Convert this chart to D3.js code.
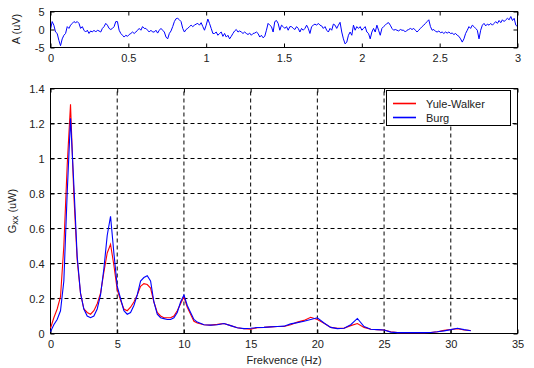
<!DOCTYPE html>
<html><head><meta charset="utf-8">
<script src="https://cdn.jsdelivr.net/npm/d3@7"></script>
<style>
body{margin:0;background:#fff}
svg{display:block}
text{font-family:"Liberation Sans",Arial,Helvetica,sans-serif;font-size:11px;fill:#222}
</style>
</head><body>
<svg id="c" width="534" height="368"></svg>
<script>
// ---------- data ----------
const signalDuration = 3; // seconds
const signalValues = [
0.0,2.2,1.2,-0.7,-1.1,-3.0,-4.5,-2.6,-1.6,-1.1,0.8,0.3,1.2,1.7,2.2,1.9,2.2,1.7,0.3,0.8,-0.2,-0.7,-0.2,-1.1,-0.4,-0.7,-0.2,-0.7,-0.2,-0.4,-0.7,0.3,0.8,1.7,1.2,0.3,0.0,0.3,0.8,2.2,2.2,-0.2,-1.1,-1.6,-2.1,-1.6,-1.9,-1.4,-1.1,-0.7,-1.1,-0.7,-0.2,0.3,-0.2,0.8,0.3,0.3,-0.2,-0.7,-0.2,-0.7,-0.7,-0.2,-1.0,-0.2,0.3,-0.2,-0.7,-2.1,-2.6,-1.1,
-0.4,0.8,2.2,3.0,3.1,2.7,2.2,0.3,-0.7,0.0,0.3,0.8,1.2,0.8,1.2,1.5,1.7,1.2,1.9,0.8,-0.2,1.2,2.9,1.7,0.3,-1.1,-1.1,-0.7,-1.6,-1.1,-0.7,-1.9,-1.1,-2.1,-1.6,-2.6,-1.9,-1.1,-0.4,0.0,-0.7,-0.4,-0.7,-1.1,-0.7,-1.1,-1.4,-1.0,-1.6,-1.1,-1.0,-0.7,-1.1,-2.1,-1.6,-2.3,-1.9,-0.2,1.7,1.2,0.8,-0.7,2.2,2.5,1.7,-0.2,1.2,0.8,0.3,0.8,-0.2,0.8,
0.8,0.3,0.0,0.8,0.3,-0.7,0.3,-0.2,0.3,1.2,0.3,-1.1,0.8,1.2,1.5,1.2,1.7,1.2,1.0,0.3,0.8,-0.2,-0.7,0.3,-0.2,1.5,1.2,0.3,1.2,2.0,-0.7,-2.6,-4.0,-3.5,-1.6,-0.7,-1.6,1.2,-0.2,0.8,0.3,0.8,-0.2,0.3,0.8,-0.7,-1.1,-2.6,-0.7,0.3,-0.7,1.2,-0.2,-1.6,0.3,0.8,1.2,1.7,1.9,1.2,0.3,-0.2,0.0,-0.2,-0.4,0.0,-0.2,-0.2,-0.7,-0.2,0.0,0.3,
0.0,0.3,-0.2,-0.7,-0.2,0.3,0.8,1.2,1.7,2.2,2.7,0.8,-0.2,0.0,-0.5,-0.7,-0.4,-0.9,-0.7,-1.1,-0.7,-1.0,-0.7,-1.1,-1.0,-1.4,-1.1,-1.6,-1.9,-2.6,-3.5,-2.6,-1.1,-0.2,0.8,0.3,1.2,0.8,0.3,-0.2,-2.6,-0.2,1.2,1.7,1.0,1.5,1.2,1.7,1.2,1.7,2.2,1.7,2.5,1.9,2.7,2.2,2.7,3.1,2.7,3.6,2.5,3.1,1.2,0.8
];

const freqs = [0,0.25,0.5,0.75,1,1.25,1.5,1.75,2,2.25,2.5,2.75,3,3.25,3.5,3.75,4,4.25,4.5,4.75,5,5.25,5.5,5.75,6,6.25,6.5,6.75,7,7.25,7.5,7.75,8,8.25,8.5,8.75,9,9.25,9.5,9.75,10,10.25,10.5,10.75,11,11.5,12,12.5,13,13.5,14,14.5,15,15.5,16,16.5,17,17.5,18,18.5,19,19.5,20,20.5,21,21.5,22,22.5,23,23.5,24,24.5,25,25.5,26,26.5,27,27.5,28,28.5,29,29.5,30,30.5,31,31.5];
const yuleWalker = [0.03,0.09,0.14,0.21,0.50,0.96,1.31,0.79,0.42,0.23,0.14,0.12,0.11,0.13,0.17,0.23,0.35,0.46,0.51,0.39,0.25,0.19,0.14,0.13,0.15,0.18,0.22,0.27,0.285,0.28,0.26,0.18,0.12,0.10,0.09,0.09,0.09,0.10,0.13,0.17,0.21,0.15,0.11,0.07,0.06,0.05,0.048,0.052,0.057,0.045,0.033,0.027,0.025,0.033,0.035,0.038,0.04,0.04,0.05,0.065,0.075,0.093,0.08,0.058,0.035,0.03,0.03,0.045,0.057,0.035,0.024,0.022,0.02,0.01,0.005,0.005,0.005,0.005,0.005,0.006,0.01,0.018,0.023,0.027,0.02,0.017];
const burg = [0.01,0.05,0.08,0.13,0.30,0.80,1.23,0.85,0.44,0.23,0.14,0.10,0.09,0.10,0.14,0.22,0.37,0.56,0.67,0.46,0.27,0.20,0.13,0.11,0.12,0.16,0.22,0.30,0.32,0.33,0.30,0.18,0.11,0.09,0.085,0.08,0.08,0.09,0.12,0.18,0.22,0.16,0.12,0.08,0.065,0.05,0.048,0.05,0.057,0.045,0.033,0.028,0.03,0.034,0.035,0.038,0.04,0.042,0.055,0.062,0.07,0.08,0.09,0.06,0.035,0.028,0.03,0.05,0.086,0.04,0.024,0.022,0.02,0.008,0.005,0.005,0.005,0.005,0.005,0.006,0.01,0.015,0.022,0.03,0.022,0.016];

const seriesNames = ["Yule-Walker","Burg"];
const seriesColors = ["#ff0000","#0000ff"];

const topXTicks = [0,0.5,1,1.5,2,2.5,3];
const topYTicks = [-5,0,5];
const mainXTicks = [0,5,10,15,20,25,30,35];
const mainYTicks = [0,0.2,0.4,0.6,0.8,1,1.2,1.4];

const topYLabel = "A (uV)";
const mainXLabel = "Frekvence (Hz)";

// ---------- drawing ----------
const svg = d3.select("#c");
const L = 50.5, R = 517.5;

function inwardAxes(g, x, y, xt, yt, showGrid) {
  const [y0, y1] = y.range(); // bottom, top
  if (showGrid) {
    const gg = g.append("g").attr("stroke","#000").attr("stroke-dasharray","4,3").attr("stroke-width",1);
    xt.forEach(v => { if (v !== xt[0]) gg.append("line").attr("x1",x(v)).attr("x2",x(v)).attr("y1",y0).attr("y2",y1); });
    yt.forEach(v => { if (v !== yt[0]) gg.append("line").attr("x1",L).attr("x2",R).attr("y1",y(v)).attr("y2",y(v)); });
  }
  const ax = d3.axisBottom(x).tickValues(xt).tickSizeInner(-4).tickSizeOuter(0).tickPadding(7).tickFormat(d=>String(d));
  const ay = d3.axisLeft(y).tickValues(yt).tickSizeInner(-4).tickSizeOuter(0).tickPadding(6).tickFormat(d=>String(d));
  const axT = d3.axisTop(x).tickValues(xt).tickSizeInner(-4).tickSizeOuter(0).tickFormat("");
  const ayR = d3.axisRight(y).tickValues(yt).tickSizeInner(-4).tickSizeOuter(0).tickFormat("");
  const gx = g.append("g").attr("transform",`translate(0,${y0})`).call(ax);
  const gy = g.append("g").attr("transform",`translate(${L},0)`).call(ay);
  const gxt = g.append("g").attr("transform",`translate(0,${y1})`).call(axT);
  const gyr = g.append("g").attr("transform",`translate(${R},0)`).call(ayR);
  [gx,gy,gxt,gyr].forEach(a => {
    a.selectAll("path").remove();
    a.selectAll("line").attr("stroke","#000");
    a.selectAll("text").attr("font-family",null).attr("font-size",null).style("fill","#222");
  });
  g.append("rect").attr("x",L).attr("y",y1).attr("width",R-L).attr("height",y0-y1)
    .attr("fill","none").attr("stroke","#000").attr("stroke-width",1);
}

// ---- top plot ----
const xT = d3.scaleLinear().domain([0,3]).range([L,R]);
const yT = d3.scaleLinear().domain([-5,5]).range([47.5,11.5]);
const gTop = svg.append("g");
const dt = signalDuration/(signalValues.length-1);
gTop.append("path").datum(signalValues)
  .attr("fill","none").attr("stroke","#0000ff").attr("stroke-width",1)
  .attr("d", d3.line().x((d,i)=>xT(i*dt)).y(d=>yT(d)));
inwardAxes(gTop, xT, yT, topXTicks, topYTicks, false);
svg.append("text").attr("transform",`translate(20,29) rotate(-90)`).attr("text-anchor","middle").text(topYLabel);

// ---- main plot ----
const xM = d3.scaleLinear().domain([0,35]).range([L,R]);
const yM = d3.scaleLinear().domain([0,1.4]).range([333.5,88.5]);
const gMain = svg.append("g");
inwardAxes(gMain, xM, yM, mainXTicks, mainYTicks, true);
const lines = gMain.append("g");
[yuleWalker, burg].forEach((ser,k) => {
  lines.append("path").datum(ser)
    .attr("fill","none").attr("stroke",seriesColors[k]).attr("stroke-width",1.1)
    .attr("d", d3.line().x((d,i)=>xM(freqs[i])).y(d=>yM(d)));
});
const yl = svg.append("text").attr("transform",`translate(16,211) rotate(-90)`).attr("text-anchor","middle");
yl.append("tspan").text("G");
yl.append("tspan").attr("font-size","9px").attr("dy","2").text("xx");
yl.append("tspan").attr("dy","-2").text(" (uW)");
svg.append("text").attr("x",(L+R)/2).attr("y",364).attr("text-anchor","middle").text(mainXLabel);

// ---- legend ----
const lg = svg.append("g");
lg.append("rect").attr("x",386.5).attr("y",90.5).attr("width",124).attr("height",35)
  .attr("fill","#fff").attr("stroke","#000");
seriesNames.forEach((n,k) => {
  const yy = 103.5 + k*14;
  lg.append("path").attr("d", d3.line()([[393,yy],[416,yy]]))
    .attr("fill","none").attr("stroke",seriesColors[k]).attr("stroke-width",1.6);
  lg.append("text").attr("x",426).attr("y",yy+4).text(n);
});
</script>
</body></html>
